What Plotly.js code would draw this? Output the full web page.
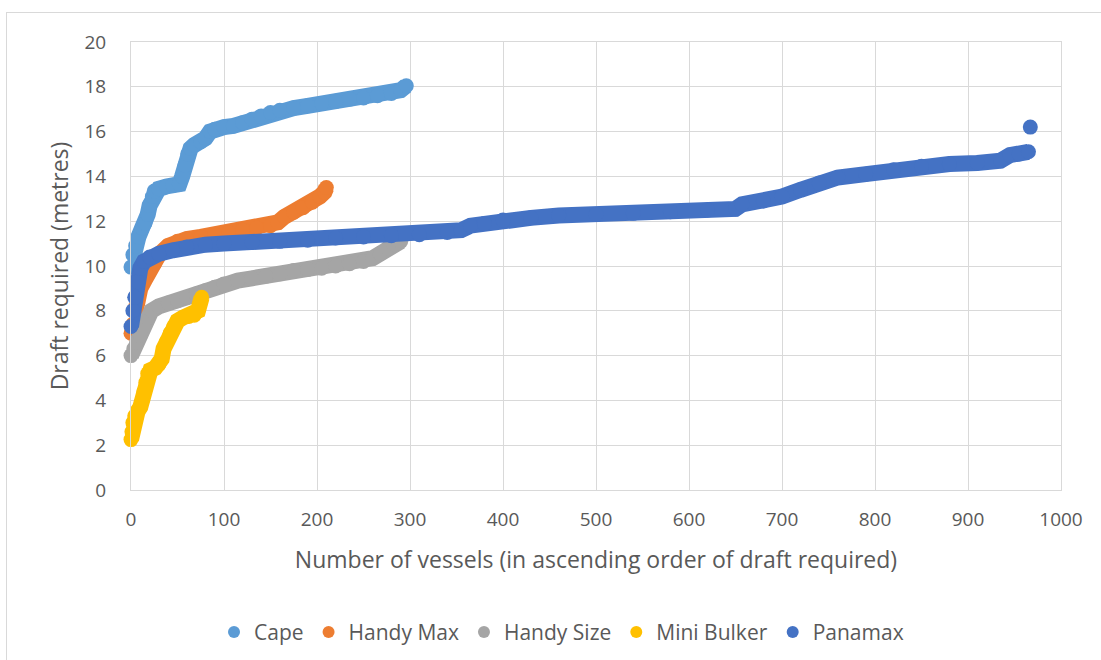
<!DOCTYPE html>
<html>
<head>
<meta charset="utf-8">
<script src="https://cdn.plot.ly/plotly-3.0.1.min.js"></script>
<style>
  html, body { margin: 0; padding: 0; background: #fff; }
  #wrap { position: relative; width: 1101px; height: 660px; }
  #chart { width: 1101px; height: 660px; }
  #frame { position: absolute; left: 6px; top: 12px; width: 1110px; height: 660px; border: 1px solid #d9d9d9; pointer-events: none; }
</style>
</head>
<body>
<div id="wrap"><div id="chart"></div><div id="frame"></div></div>
<script>
// Series names
const seriesNames = ["Cape", "Handy Max", "Handy Size", "Mini Bulker", "Panamax"];

// Cape
const capeX = [0, 2, 5, 8, 12, 15, 18, 20, 23, 25, 30, 38, 45, 52, 55, 58, 61, 64, 68, 75, 80, 85, 90, 100, 110, 120, 130, 140, 150, 160, 175, 190, 205, 220, 235, 250, 265, 280, 290, 296];
const capeY = [9.95, 10.5, 10.9, 11.3, 11.7, 11.9, 12.3, 12.7, 13.1, 13.35, 13.45, 13.55, 13.6, 13.65, 14.0, 14.5, 15.0, 15.25, 15.4, 15.55, 15.7, 16.0, 16.1, 16.2, 16.25, 16.4, 16.55, 16.7, 16.85, 16.95, 17.05, 17.15, 17.25, 17.35, 17.45, 17.5, 17.6, 17.7, 17.85, 18.05];

// Handy Max
const handyMaxX = [0, 2, 4, 6, 10, 15, 20, 25, 30, 40, 50, 60, 75, 90, 105, 120, 135, 150, 158, 165, 175, 185, 195, 203, 208, 210];
const handyMaxY = [7.0, 7.4, 8.1, 8.5, 9.0, 9.4, 9.8, 10.1, 10.5, 10.9, 11.1, 11.2, 11.3, 11.4, 11.5, 11.6, 11.7, 11.8, 11.95, 12.2, 12.4, 12.6, 12.85, 13.1, 13.3, 13.5];

// Handy Size
const handySizeX = [0, 3, 6, 10, 14, 18, 22, 30, 40, 50, 60, 70, 80, 90, 100, 115, 130, 145, 160, 175, 190, 205, 220, 235, 250, 260, 268, 276, 283, 290];
const handySizeY = [6.0, 6.3, 6.6, 6.9, 7.3, 7.7, 8.0, 8.2, 8.35, 8.45, 8.6, 8.75, 8.9, 9.05, 9.2, 9.35, 9.45, 9.55, 9.65, 9.8, 9.85, 9.9, 10.0, 10.1, 10.2, 10.35, 10.55, 10.8, 10.95, 11.1];

// Mini Bulker
const miniBulkerX = [0, 1, 2, 4, 7, 10, 12, 14, 16, 18, 21, 26, 30, 33, 35, 38, 42, 46, 50, 56, 62, 68, 72, 74, 76];
const miniBulkerY = [2.25, 2.6, 3.0, 3.3, 3.5, 3.7, 4.0, 4.4, 4.8, 5.2, 5.35, 5.45, 5.6, 5.85, 6.3, 6.6, 7.0, 7.3, 7.55, 7.7, 7.75, 7.8, 8.0, 8.3, 8.6];

// Panamax (last point is the isolated outlier)
const panamaxX = [0, 2, 4, 7, 10, 14, 20, 30, 45, 60, 80, 100, 130, 160, 190, 220, 250, 280, 310, 340, 355, 365, 380, 400, 430, 460, 500, 540, 580, 620, 650, 657, 680, 700, 720, 740, 760, 790, 820, 850, 880, 910, 935, 945, 955, 965, 967];
const panamaxY = [7.3, 8.0, 8.6, 9.3, 9.9, 10.2, 10.4, 10.55, 10.7, 10.85, 10.95, 11.0, 11.05, 11.1, 11.15, 11.25, 11.3, 11.35, 11.4, 11.5, 11.6, 11.8, 11.9, 12.05, 12.15, 12.25, 12.3, 12.35, 12.42, 12.5, 12.55, 12.75, 12.9, 13.1, 13.4, 13.7, 13.95, 14.1, 14.3, 14.45, 14.55, 14.6, 14.7, 14.95, 15.0, 15.1, 16.2];

// Axis ticks
const xTicks = [0, 100, 200, 300, 400, 500, 600, 700, 800, 900, 1000];
const yTicks = [0, 2, 4, 6, 8, 10, 12, 14, 16, 18, 20];

const colors = ["#5B9BD5", "#ED7D31", "#A5A5A5", "#FFC000", "#4472C4"];
const series = [
  [capeX, capeY, false],
  [handyMaxX, handyMaxY, false],
  [handySizeX, handySizeY, false],
  [miniBulkerX, miniBulkerY, false],
  [panamaxX, panamaxY, true]
];

const traces = [];
series.forEach((s, i) => {
  const [xs, ys, outlier] = s;
  const lx = outlier ? xs.slice(0, -1) : xs;
  const ly = outlier ? ys.slice(0, -1) : ys;
  traces.push({
    x: lx, y: ly, type: "scatter", mode: "lines",
    line: { color: colors[i], width: 16 },
    legendgroup: seriesNames[i], showlegend: false, hoverinfo: "skip", cliponaxis: false
  });
  traces.push({
    x: xs, y: ys, type: "scatter", mode: "markers", name: seriesNames[i],
    marker: { color: colors[i], size: 15 },
    legendgroup: seriesNames[i], cliponaxis: false
  });
});

const font = "'Open Sans', 'Liberation Sans', Arial, sans-serif";
const layout = {
  width: 1101, height: 660,
  margin: { l: 131, r: 40, t: 42, b: 170 },
  paper_bgcolor: "#fff", plot_bgcolor: "#fff",
  font: { family: font, color: "#595959", size: 19 },
  showlegend: true,
  legend: {
    orientation: "h", xref: "container", yref: "container",
    x: 0.51, xanchor: "center", y: 0.042, yanchor: "middle",
    font: { size: 21, color: "#595959" }, itemsizing: "constant",
    itemwidth: 30, tracegroupgap: 0
  },
  xaxis: {
    range: [0, 1000], tickvals: xTicks, ticktext: xTicks.map(String),
    showgrid: true, gridcolor: "#d9d9d9", gridwidth: 1,
    showline: true, linecolor: "#d9d9d9", mirror: true, zeroline: false,
    ticks: "", ticklabelstandoff: 12,
    tickfont: { size: 19, color: "#595959" },
    title: { text: "Number of vessels (in ascending order of draft required)", font: { size: 23, color: "#595959" }, standoff: 21 }
  },
  yaxis: {
    range: [0, 20], tickvals: yTicks, ticktext: yTicks.map(String),
    showgrid: true, gridcolor: "#d9d9d9", gridwidth: 1,
    showline: true, linecolor: "#d9d9d9", mirror: true, zeroline: false,
    ticks: "", ticklabelstandoff: 20,
    tickfont: { size: 19, color: "#595959" },
    title: { text: "Draft required (metres)", font: { size: 23, color: "#595959" }, standoff: 9 }
  }
};

Plotly.newPlot("chart", traces, layout, { displayModeBar: false, staticPlot: true });
</script>
</body>
</html>
